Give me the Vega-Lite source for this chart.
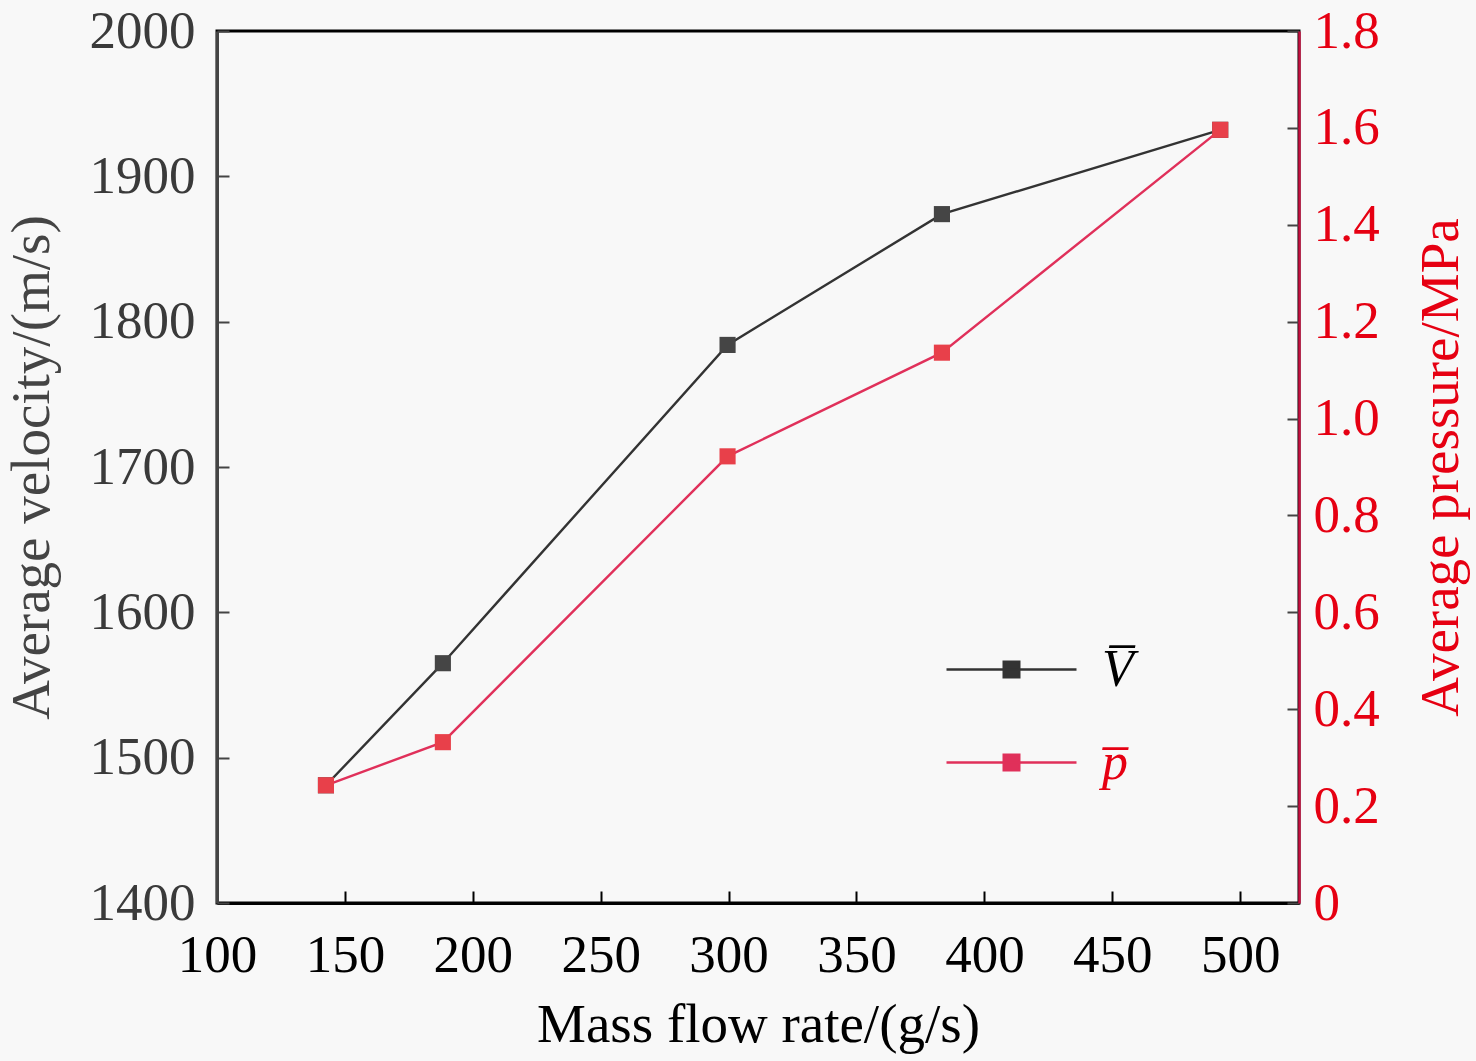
{
  "$schema": "https://vega.github.io/schema/vega-lite/v6.json",
  "autosize": {"type": "none"},
  "padding": {"left": 217, "top": 31, "right": 177, "bottom": 158},
  "width": 1082,
  "height": 872,
  "background": "#f8f8f8",
  "config": {
    "font": "Liberation Serif",
    "view": {"stroke": "black", "strokeWidth": 3},
    "axis": {"grid": false, "labelFontSize": 53, "titleFontSize": 55, "titleFontWeight": "normal", "tickSize": -12, "tickWidth": 2, "labelFlush": false}
  },
  "data": {
    "values": [
      {"rate": 142.6, "V": 1481, "p": 0.243},
      {"rate": 188.3, "V": 1565, "p": 0.332},
      {"rate": 299.6, "V": 1784, "p": 0.922},
      {"rate": 383.4, "V": 1874, "p": 1.136},
      {"rate": 492.2, "V": 1932, "p": 1.596}
    ]
  },
  "encoding": {
    "x": {
      "field": "rate", "type": "quantitative",
      "scale": {"domain": [100, 523], "nice": false},
      "axis": {
        "title": "Mass flow rate/(g/s)", "values": [100, 150, 200, 250, 300, 350, 400, 450, 500],
        "domainColor": "black", "domainWidth": 3, "tickColor": "black",
        "labelColor": "black", "titleColor": "black", "labelPadding": 38, "titlePadding": 16
      }
    }
  },
  "layer": [
    {
      "layer": [
        {"mark": {"type": "line", "stroke": "#333333", "strokeWidth": 2.4}},
        {"mark": {"type": "point", "shape": "square", "filled": true, "size": 260, "fill": "#454545", "opacity": 1}}
      ],
      "encoding": {
        "y": {
          "field": "V", "type": "quantitative",
          "scale": {"domain": [1400, 2000], "nice": false},
          "axis": {
            "title": "Average velocity/(m/s)", "values": [1400, 1500, 1600, 1700, 1800, 1900, 2000],
            "format": "d",
            "domainColor": "#444444", "domainWidth": 3, "tickColor": "#444444",
            "labelColor": "#3a3a3a", "titleColor": "#444444", "labelPadding": 34, "titlePadding": 29
          }
        },
        "color": {
          "datum": "V\u0305",
          "type": "nominal",
          "scale": {"domain": ["V\u0305", "p\u0305"], "range": ["#333333", "#e0305a"]},
          "legend": {
            "title": null,
            "orient": "none",
            "legendX": 728,
            "legendY": 572,
            "padding": 0,
            "symbolType": "M-1,0H1M-0.12,-0.12H0.12V0.12H-0.12Z",
            "symbolSize": 16900,
            "symbolStrokeWidth": 2.4,
            "labelFont": "Liberation Serif",
            "labelFontStyle": "italic",
            "labelFontSize": 52,
            "labelOffset": 24,
            "rowPadding": 0,
            "encode": {
              "symbols": {"update": {
                "fill": {"signal": "datum.value === 'p\u0305' ? '#e8404a' : '#454545'"},
                "stroke": {"signal": "datum.value === 'p\u0305' ? '#e0305a' : '#333333'"}
              }},
              "labels": {"update": {
                "fill": {"signal": "datum.value === 'p\u0305' ? '#e60012' : '#000000'"}
              }}
            }
          }
        }
      }
    },
    {
      "layer": [
        {"mark": {"type": "line", "stroke": "#e0305a", "strokeWidth": 2.4}},
        {"mark": {"type": "point", "shape": "square", "filled": true, "size": 260, "fill": "#e8404a", "opacity": 1}}
      ],
      "encoding": {
        "y": {
          "field": "p", "type": "quantitative",
          "scale": {"domain": [0, 1.8], "nice": false},
          "axis": {
            "orient": "right",
            "title": "Average pressure/MPa", "titleAngle": -90,
            "values": [0, 0.2, 0.4, 0.6, 0.8, 1.0, 1.2, 1.4, 1.6, 1.8],
            "labelExpr": "datum.value === 0 ? '0' : format(datum.value, '.1f')",
            "domainColor": "#c41040", "domainWidth": 2.5, "tickColor": "#444444",
            "labelColor": "#e60012", "titleColor": "#e60012", "labelPadding": 26, "titlePadding": 90
          }
        },
        "color": {"datum": "p\u0305", "type": "nominal"}
      }
    }
  ],
  "resolve": {"scale": {"y": "independent"}}
}
